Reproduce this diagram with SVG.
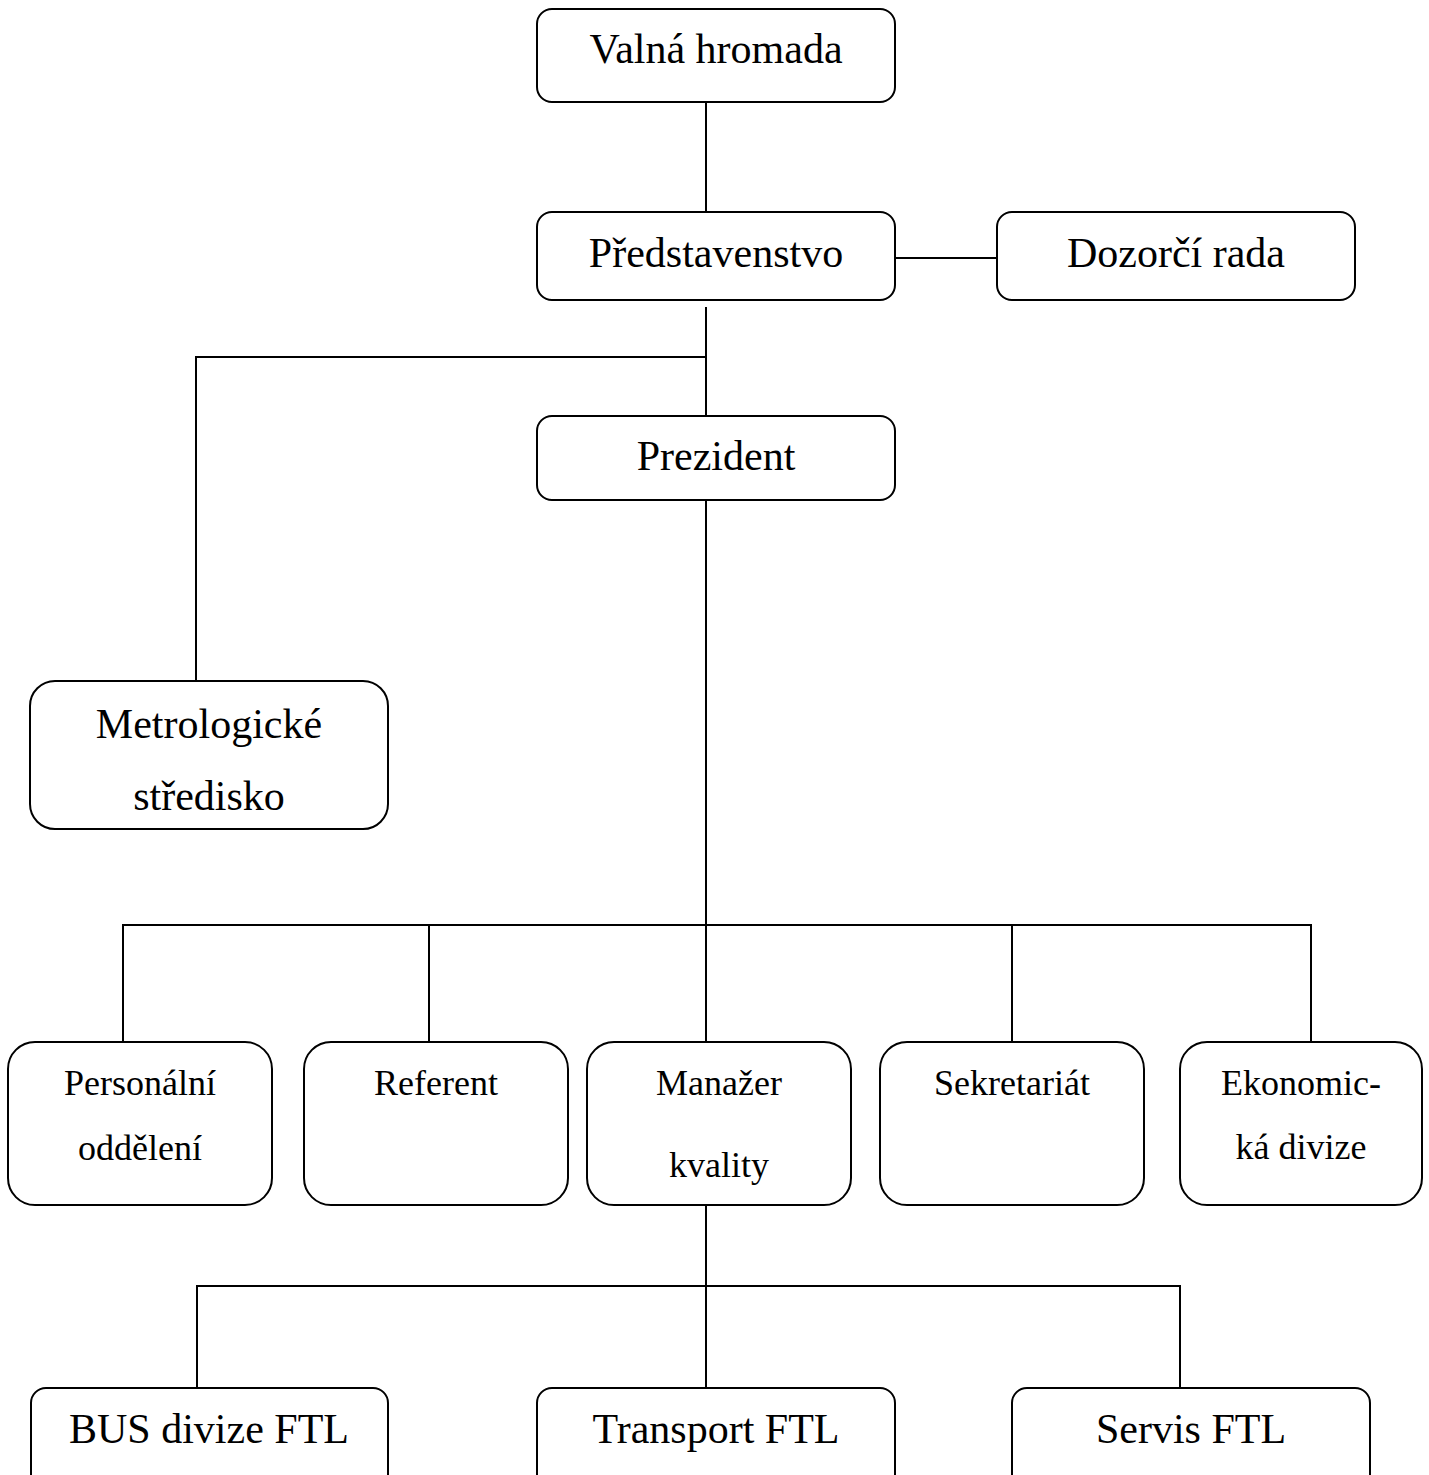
<svg xmlns="http://www.w3.org/2000/svg" width="1429" height="1475" viewBox="0 0 1429 1475">
<style>
.box{fill:#fff;stroke:#000;stroke-width:2}
.t{font-family:"Liberation Serif","Times New Roman",serif;fill:#000;text-anchor:middle}
.big{font-size:42px}
.sm{font-size:36px}
.c{fill:none;stroke:#000;stroke-width:2}
</style>
<rect width="1429" height="1475" fill="#fff"/>
<g id="connectors">
<path class="c" d="M706 102V212"/>
<path class="c" d="M895 258H997"/>
<path class="c" d="M706 307V416"/>
<path class="c" d="M706 357H196V681"/>
<path class="c" d="M706 500V925"/>
<path class="c" d="M123 1042V925H1311V1042"/>
<path class="c" d="M429 925V1042"/>
<path class="c" d="M706 925V1042"/>
<path class="c" d="M1012 925V1042"/>
<path class="c" d="M706 1205V1388"/>
<path class="c" d="M197 1388V1286H1180V1388"/>
</g>
<g id="valna-hromada"><rect class="box" x="537" y="9" width="358" height="93" rx="15"/><text class="t big" x="716" y="63">Valná hromada</text></g>
<g id="predstavenstvo"><rect class="box" x="537" y="212" width="358" height="88" rx="15"/><text class="t big" x="716" y="267">Představenstvo</text></g>
<g id="dozorci-rada"><rect class="box" x="997" y="212" width="358" height="88" rx="15"/><text class="t big" x="1176" y="267">Dozorčí rada</text></g>
<g id="prezident"><rect class="box" x="537" y="416" width="358" height="84" rx="15"/><text class="t big" x="716" y="470">Prezident</text></g>
<g id="metrologicke-stredisko"><rect class="box" x="30" y="681" width="358" height="148" rx="25"/><text class="t big" x="209" y="738">Metrologické</text><text class="t big" x="209" y="810">středisko</text></g>
<g id="personalni-oddeleni"><rect class="box" x="8" y="1042" width="264" height="163" rx="27"/><text class="t sm" x="140" y="1095">Personální</text><text class="t sm" x="140" y="1160">oddělení</text></g>
<g id="referent"><rect class="box" x="304" y="1042" width="264" height="163" rx="27"/><text class="t sm" x="436" y="1095">Referent</text></g>
<g id="manazer-kvality"><rect class="box" x="587" y="1042" width="264" height="163" rx="27"/><text class="t sm" x="719" y="1095">Manažer</text><text class="t sm" x="719" y="1177">kvality</text></g>
<g id="sekretariat"><rect class="box" x="880" y="1042" width="264" height="163" rx="27"/><text class="t sm" x="1012" y="1095">Sekretariát</text></g>
<g id="ekonomicka-divize"><rect class="box" x="1180" y="1042" width="242" height="163" rx="27"/><text class="t sm" x="1301" y="1095">Ekonomic-</text><text class="t sm" x="1301" y="1159">ká divize</text></g>
<g id="bus-divize-ftl"><rect class="box" x="31" y="1388" width="357" height="120" rx="15"/><text class="t big" x="209" y="1443">BUS divize FTL</text></g>
<g id="transport-ftl"><rect class="box" x="537" y="1388" width="358" height="120" rx="15"/><text class="t big" x="716" y="1443">Transport FTL</text></g>
<g id="servis-ftl"><rect class="box" x="1012" y="1388" width="358" height="120" rx="15"/><text class="t big" x="1191" y="1443">Servis FTL</text></g>
</svg>
